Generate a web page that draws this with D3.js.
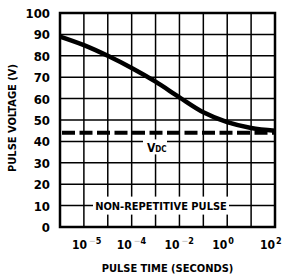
<!DOCTYPE html>
<html>
<head>
<meta charset="utf-8">
<script src="https://cdn.jsdelivr.net/npm/d3@7"></script>
<style>
	body { margin: 0; background: #fff; }
	svg { display: block; }
	text { font-family: 'Liberation Sans Narrow', 'DejaVu Sans Condensed', 'Liberation Sans', sans-serif; font-weight: bold; fill: #000; }
</style>
</head>
<body>
<div class="svg-container"></div>
<script>
// curve
const pulseTime = [1e-7, 1e-6, 1e-5, 1e-4, 1e-3, 1e-2, 1e-1, 1e0, 1e1, 1e2];
const pulseVoltage = [89, 85, 80, 74.3, 67.9, 60.6, 53.6, 49, 46.3, 45];
const vdcLevel = 44;

// axes
const voltTicks = [0, 10, 20, 30, 40, 50, 60, 70, 80, 90, 100];
const gridTimes = [1e-7, 1e-6, 1e-5, 1e-4, 1e-3, 1e-2, 1e-1, 1e0, 1e1, 1e2];
const labelTimes = [1e-6, 1e-4, 1e-2, 1e0, 1e2];
const labelExps = [-5, -4, -2, 0, 2]; // as printed on the sheet

const w = 284;
const h = 274;
const plotLeft = 60, plotRight = 275, plotTop = 13, plotBottom = 227;

const svg = d3
	.select('.svg-container')
	.append('svg')
	.attr('width', w)
	.attr('height', h)
	.style('background-color', '#fff');

const x = d3.scaleLog().domain([1e-7, 1e2]).range([plotLeft, plotRight]);
const y = d3.scaleLinear().domain([0, 100]).range([plotBottom, plotTop]);

// grid
svg.append('g')
	.selectAll('line')
	.data(voltTicks)
	.enter()
	.append('line')
	.attr('x1', plotLeft)
	.attr('x2', plotRight)
	.attr('y1', d => y(d))
	.attr('y2', d => y(d))
	.attr('stroke', '#000')
	.attr('stroke-width', 1.5);

svg.append('g')
	.selectAll('line')
	.data(gridTimes)
	.enter()
	.append('line')
	.attr('x1', d => x(d))
	.attr('x2', d => x(d))
	.attr('y1', plotTop)
	.attr('y2', plotBottom)
	.attr('stroke', '#000')
	.attr('stroke-width', 1.5);

// frame
svg.append('rect')
	.attr('x', plotLeft)
	.attr('y', plotTop)
	.attr('width', plotRight - plotLeft)
	.attr('height', plotBottom - plotTop)
	.attr('fill', 'none')
	.attr('stroke', '#000')
	.attr('stroke-width', 2.5);

// y labels
svg.append('g')
	.selectAll('text')
	.data(voltTicks)
	.enter()
	.append('text')
	.attr('x', plotLeft - 10)
	.attr('y', d => y(d) + 5)
	.attr('text-anchor', 'end')
	.style('font-size', '13px')
	.text(d => d);

// x labels: 10 with exponent (minus signs are faded on the sheet)
const xl = svg.append('g')
	.selectAll('text')
	.data(labelTimes)
	.enter()
	.append('text')
	.attr('x', (d, i) => x(d) - (i === 0 ? 12 : 15))
	.attr('y', 249)
	.style('font-size', '12px');
xl.append('tspan').text('10');
const ex = xl.append('tspan')
	.attr('dx', (d, i) => (labelExps[i] < 0 ? 2 : 1))
	.attr('dy', -5)
	.style('font-size', '9px');
ex.append('tspan')
	.style('fill', '#ccc')
	.text((d, i) => (labelExps[i] < 0 ? '\u2212' : ''));
ex.append('tspan')
	.text((d, i) => Math.abs(labelExps[i]));

// axis titles
svg.append('text')
	.attr('x', (plotLeft + plotRight) / 2)
	.attr('y', 272)
	.attr('text-anchor', 'middle')
	.style('font-size', '11px')
	.text('PULSE TIME (SECONDS)');

svg.append('text')
	.attr('transform', `translate(16,${(plotTop + plotBottom) / 2 - 2}) rotate(-90)`)
	.attr('text-anchor', 'middle')
	.style('font-size', '11px')
	.text('PULSE VOLTAGE (V)');

// V_DC dashed line
svg.append('line')
	.attr('x1', plotLeft + 2)
	.attr('x2', plotRight)
	.attr('y1', y(vdcLevel))
	.attr('y2', y(vdcLevel))
	.attr('stroke', '#000')
	.attr('stroke-width', 4)
	.attr('stroke-dasharray', '13,4.5');

// V_DC label on the 40 V grid line
svg.append('rect')
	.attr('x', 143)
	.attr('y', y(40) - 2)
	.attr('width', 24)
	.attr('height', 15)
	.attr('fill', '#fff');
const vdc = svg.append('text')
	.attr('x', 147)
	.attr('y', y(40) + 11)
	.style('font-size', '12px');
vdc.append('tspan').text('V');
vdc.append('tspan').style('font-size', '8px').text('DC');

// non-repetitive label on the 10 V line
svg.append('rect')
	.attr('x', 93)
	.attr('y', y(10) - 9)
	.attr('width', 136)
	.attr('height', 18)
	.attr('fill', '#fff');
svg.append('text')
	.attr('x', 161)
	.attr('y', y(10) + 4)
	.attr('text-anchor', 'middle')
	.style('font-size', '11px')
	.text('NON-REPETITIVE PULSE');

// curve
const line = d3
	.line()
	.x((d, i) => x(pulseTime[i]))
	.y(d => y(d))
	.curve(d3.curveCatmullRom.alpha(0.5));

svg.append('path')
	.datum(pulseVoltage)
	.attr('d', line)
	.attr('fill', 'none')
	.attr('stroke', '#000')
	.attr('stroke-width', 4.5);
</script>
</body>
</html>
